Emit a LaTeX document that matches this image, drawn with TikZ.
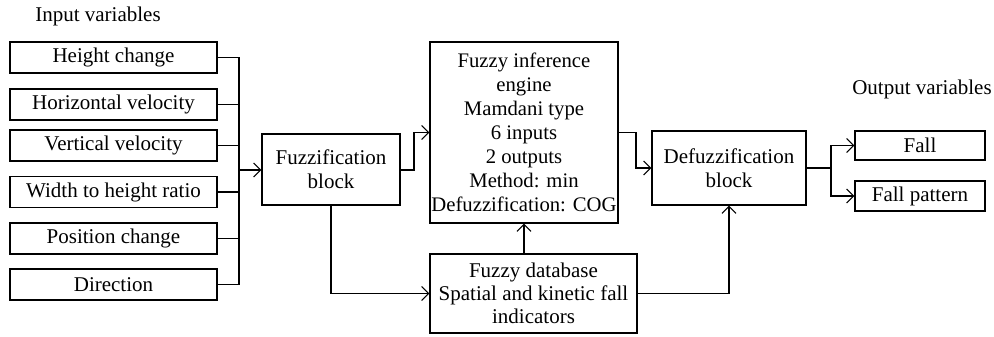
\documentclass[tikz,border=0pt]{standalone}
\usepackage{fontspec}
\setmainfont{Liberation Serif}
\usetikzlibrary{arrows.meta}
\begin{document}
\begin{tikzpicture}[x=1pt,y=-1pt,
  every node/.style={font=\fontsize{21}{24}\selectfont, inner sep=0pt, align=center},
  box/.style={draw, line width=1.2pt},
  conn/.style={line width=1.1pt},
  arr/.style={conn, -{Straight Barb[length=7pt,width=14pt,line width=1.1pt]}}]
\useasboundingbox (0,0) rectangle (994,337);
% labels
\node (inlab) at (98,16) {Input variables};
\node (outlab) at (922,89) {Output variables};
% input boxes
\node[box, minimum width=207pt, minimum height=31pt] (hc) at (113.5,57.5) {Height change};
\node[box, minimum width=207pt, minimum height=31pt] (hv) at (113.5,104.5) {Horizontal velocity};
\node[box, minimum width=207pt, minimum height=31pt] (vv) at (113.5,145.5) {Vertical velocity};
\node[box, minimum width=207pt, minimum height=31pt] (wh) at (113.5,192) {Width to height ratio};
\node[box, minimum width=207pt, minimum height=31pt] (pc) at (113.5,238.5) {Position change};
\node[box, minimum width=207pt, minimum height=31pt] (dir) at (113.5,284.5) {Direction};
% main blocks
\node[box, minimum width=138pt, minimum height=71pt] (fuzz) at (331,169.5) {Fuzzification\\block};
\node[box, minimum width=188pt, minimum height=181pt, font=\fontsize{20.7}{24}\selectfont] (fie) at (524,132.5) {Fuzzy inference\\engine\\Mamdani type\\6 inputs\\2 outputs\\Method: min\\Defuzzification: COG};
\node[box, minimum width=154pt, minimum height=74pt] (defuzz) at (729,168) {Defuzzification\\block};
\node[box, minimum width=207pt, minimum height=79pt, font=\fontsize{21}{23}\selectfont] (fdb) at (533.5,293.5) {Fuzzy database\\Spatial and kinetic fall\\indicators};
\node[box, minimum width=130pt, minimum height=29pt] (fall) at (920,145.5) {Fall};
\node[box, minimum width=130pt, minimum height=30pt] (fallp) at (920,196) {Fall pattern};
% bus
\coordinate (bus) at (239,170);
\foreach \n in {hc,hv,vv,wh,pc,dir} \draw[conn] (\n.east) -- (\n.east -| bus);
\draw[conn] (hc.east -| bus) -- (dir.east -| bus);
\draw[arr] (bus) -- (bus -| fuzz.west);
% fuzz -> fie
\coordinate (j1) at (414,0);
\draw[arr] (fuzz.east |- bus) -- (j1 |- bus) -- (j1 |- fie.west) -- (fie.west);
% fie -> defuzz
\coordinate (j2) at (636,0);
\draw[arr] (fie.east) -- (j2 |- fie.east) -- (j2 |- defuzz.west) -- (defuzz.west);
% fuzz -> fdb
\draw[arr] (fuzz.south) -- (fuzz.south |- fdb.west) -- (fdb.west);
% fdb -> fie
\draw[arr] (fie.south |- fdb.north) -- (fie.south);
% fdb -> defuzz
\draw[arr] (fdb.east) -- (defuzz.south |- fdb.east) -- (defuzz.south);
% defuzz -> outputs
\coordinate (j3) at (831,0);
\draw[conn] (defuzz.east) -- (j3 |- defuzz.east);
\draw[arr] (j3 |- defuzz.east) -- (j3 |- fall.west) -- (fall.west);
\draw[arr] (j3 |- defuzz.east) -- (j3 |- fallp.west) -- (fallp.west);
\end{tikzpicture}
\end{document}
